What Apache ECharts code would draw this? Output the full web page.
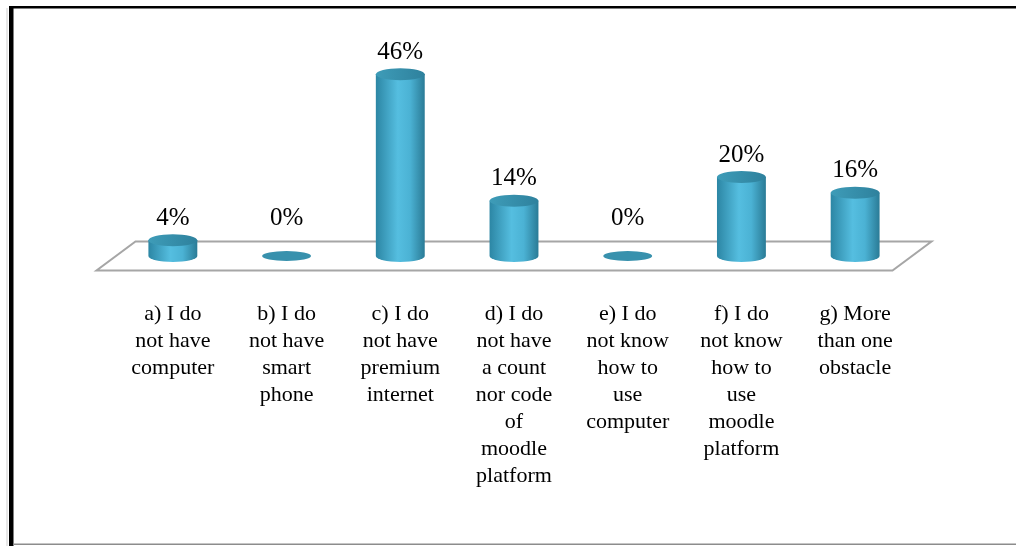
<!DOCTYPE html>
<html>
<head>
<meta charset="utf-8">
<script src="https://cdn.jsdelivr.net/npm/echarts@6/dist/echarts.min.js"></script>
<style>
  html, body { margin: 0; padding: 0; background: #ffffff; }
  #chart { width: 1016px; height: 546px; }
</style>
</head>
<body>
<div id="chart"></div>
<script>
// Obstacles reported for using the moodle platform (share of answers, %)
var categories = [
  'a) I do\nnot have\ncomputer',
  'b) I do\nnot have\nsmart\nphone',
  'c) I do\nnot have\npremium\ninternet',
  'd) I do\nnot have\na count\nnor code\nof\nmoodle\nplatform',
  'e) I do\nnot know\nhow to\nuse\ncomputer',
  'f) I do\nnot know\nhow to\nuse\nmoodle\nplatform',
  'g) More\nthan one\nobstacle'
];
var percentages = [4, 0, 46, 14, 0, 20, 16];

var SERIF = '"Liberation Serif", "Times New Roman", serif';

var chart = echarts.init(document.getElementById('chart'), null, { renderer: 'canvas' });

// Cylinder made of a shaded body and an elliptical cap
function renderCylinder(params, api) {
  var idx = api.value(0);
  var val = api.value(1);
  var base = api.coord([idx, 0]);
  var top = api.coord([idx, val]);
  var band = api.size([1, 0])[0];
  var rx = band * 0.215;
  var ry = 6;
  var cx = base[0];
  var by = base[1];
  var ty = top[1];
  var children = [];

  if (val > 0) {
    children.push({
      type: 'path',
      shape: {
        pathData: 'M' + (cx - rx) + ',' + ty +
          ' L' + (cx - rx) + ',' + by +
          ' A' + rx + ',' + ry + ' 0 0 0 ' + (cx + rx) + ',' + by +
          ' L' + (cx + rx) + ',' + ty + ' Z'
      },
      style: {
        fill: new echarts.graphic.LinearGradient(0, 0, 1, 0, [
          { offset: 0, color: '#2c86a4' },
          { offset: 0.45, color: '#55bee0' },
          { offset: 0.7, color: '#4bb2d4' },
          { offset: 1, color: '#2a7b96' }
        ])
      }
    });
    children.push({
      type: 'path',
      shape: {
        pathData: 'M' + (cx - rx) + ',' + ty +
          ' A' + rx + ',' + ry + ' 0 0 1 ' + (cx + rx) + ',' + ty +
          ' A' + rx + ',' + ry + ' 0 0 1 ' + (cx - rx) + ',' + ty + ' Z'
      },
      style: {
        fill: new echarts.graphic.LinearGradient(0, 0, 1, 0, [
          { offset: 0, color: '#3e9cb8' },
          { offset: 1, color: '#2e819d' }
        ])
      }
    });
  } else {
    children.push({
      type: 'path',
      shape: {
        pathData: 'M' + (cx - rx) + ',' + by +
          ' A' + rx + ',' + (ry - 1) + ' 0 0 1 ' + (cx + rx) + ',' + by +
          ' A' + rx + ',' + (ry - 1) + ' 0 0 1 ' + (cx - rx) + ',' + by + ' Z'
      },
      style: { fill: '#3891ad' }
    });
  }

  var labelY = Math.min(ty, by - 16) - 22;
  children.push({
    type: 'text',
    x: cx,
    y: labelY,
    style: {
      text: val + '%',
      font: '25px ' + SERIF,
      fill: '#000000',
      align: 'center',
      verticalAlign: 'middle'
    }
  });

  return { type: 'group', children: children };
}

// Floor plane under the cylinders
function renderFloor(params, api) {
  var band = api.size([1, 0])[0];
  var first = api.coord([0, 0]);
  var last = api.coord([categories.length - 1, 0]);
  var left = first[0] - band / 2;
  var right = last[0] + band / 2;
  var y = first[1];
  var dx = 19.5, dy = 14.5;
  return {
    type: 'polygon',
    shape: {
      points: [
        [left + dx, y - dy],
        [right + dx, y - dy],
        [right - dx, y + dy],
        [left - dx, y + dy]
      ]
    },
    style: { fill: '#ffffff', stroke: '#a6a6a6', lineWidth: 2 }
  };
}

var option = {
  backgroundColor: '#ffffff',
  animation: false,
  grid: { left: 116, right: 104, top: 58.5, bottom: 290 },
  xAxis: {
    type: 'category',
    data: categories,
    axisLine: { show: false },
    axisTick: { show: false },
    axisLabel: {
      interval: 0,
      margin: 45,
      color: '#000000',
      fontFamily: SERIF,
      fontSize: 22,
      lineHeight: 27,
      align: 'center'
    }
  },
  yAxis: {
    type: 'value',
    min: 0,
    max: 50,
    show: false,
    splitLine: { show: false }
  },
  graphic: [
    // frame: heavy left and top edges, thin bottom rule
    { type: 'rect', shape: { x: 9, y: 6, width: 1010, height: 2.5 }, style: { fill: '#000000' } },
    { type: 'rect', shape: { x: 9, y: 6, width: 4.5, height: 540 }, style: { fill: '#000000' } },
    { type: 'rect', shape: { x: 6.5, y: 8, width: 1, height: 538 }, style: { fill: '#d0d0d0' } },
    { type: 'rect', shape: { x: 13, y: 543.5, width: 1003, height: 1.5 }, style: { fill: '#8c8c8c' } }
  ],
  series: [
    {
      type: 'custom',
      z: 1,
      silent: true,
      data: [[0, 0]],
      renderItem: renderFloor
    },
    {
      type: 'custom',
      z: 2,
      silent: true,
      data: percentages.map(function (v, i) { return [i, v]; }),
      encode: { x: 0, y: 1 },
      renderItem: renderCylinder
    }
  ]
};

chart.setOption(option);
</script>
</body>
</html>
